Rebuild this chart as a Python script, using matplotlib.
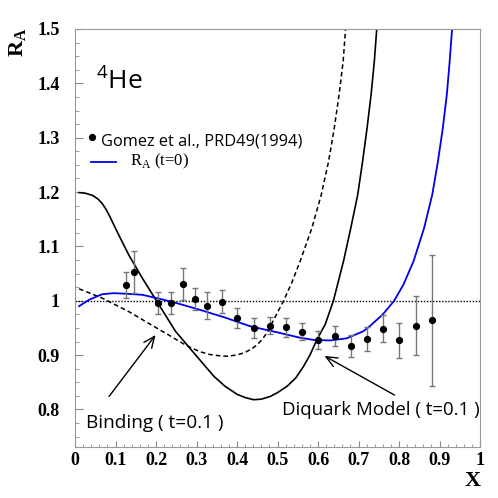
import matplotlib
matplotlib.use("Agg")
import matplotlib.pyplot as plt
from matplotlib.ticker import MultipleLocator

# Gomez et al., PRD49 (1994) data points for 4He
data_x = [0.125, 0.145, 0.205, 0.236, 0.266, 0.296, 0.326, 0.362, 0.401, 0.441,
          0.481, 0.521, 0.561, 0.601, 0.641, 0.681, 0.721, 0.761, 0.801, 0.841, 0.881]
data_y = [1.029, 1.053, 0.996, 0.996, 1.031, 1.003, 0.991, 0.998, 0.968, 0.950,
          0.954, 0.951, 0.943, 0.928, 0.935, 0.917, 0.930, 0.949, 0.927, 0.954, 0.964]
data_err = [0.024, 0.039, 0.021, 0.021, 0.029, 0.020, 0.025, 0.021, 0.018, 0.019,
            0.016, 0.017, 0.016, 0.017, 0.018, 0.020, 0.022, 0.025, 0.032, 0.054, 0.120]

# R_A (t=0), blue curve
t0_x = [0.01, 0.035, 0.067, 0.095, 0.125, 0.166, 0.207, 0.24, 0.273, 0.31, 0.371,
        0.433, 0.499, 0.556, 0.589, 0.630, 0.671, 0.712, 0.729, 0.760, 0.788, 0.811,
        0.836, 0.862, 0.882, 0.896, 0.908, 0.918, 0.925, 0.931]
t0_y = [0.990, 1.002, 1.012, 1.014, 1.013, 1.011, 1.004, 0.998, 0.991, 0.983, 0.969,
        0.953, 0.942, 0.932, 0.928, 0.927, 0.931, 0.944, 0.954, 0.975, 1.0, 1.030,
        1.073, 1.134, 1.195, 1.256, 1.317, 1.379, 1.440, 1.5]

# Diquark model (t=0.1), solid black
dq_x = [0.01, 0.025, 0.043, 0.057, 0.067, 0.076, 0.084, 0.095, 0.108, 0.133, 0.166,
        0.207, 0.248, 0.289, 0.343, 0.37, 0.40, 0.42, 0.441, 0.46, 0.482, 0.50, 0.524,
        0.545, 0.564, 0.58, 0.597, 0.618, 0.638, 0.663, 0.681, 0.698, 0.710, 0.721,
        0.731, 0.739, 0.745]
dq_y = [1.199, 1.198, 1.194, 1.187, 1.179, 1.169, 1.158, 1.141, 1.121, 1.084, 1.042,
        0.993, 0.944, 0.908, 0.861, 0.843, 0.828, 0.822, 0.818, 0.819, 0.824, 0.831,
        0.843, 0.858, 0.879, 0.900, 0.928, 0.957, 1.0, 1.073, 1.134, 1.195, 1.256,
        1.317, 1.379, 1.440, 1.5]

# Binding (t=0.1), dashed black
bd_x = [0.01, 0.067, 0.133, 0.199, 0.236, 0.265, 0.285, 0.31, 0.334, 0.355, 0.376,
        0.397, 0.417, 0.435, 0.450, 0.462, 0.474, 0.485, 0.515, 0.535, 0.556, 0.585,
        0.608, 0.626, 0.640, 0.652, 0.662, 0.668]
bd_y = [1.022, 1.005, 0.980, 0.951, 0.935, 0.922, 0.914, 0.906, 0.901, 0.899, 0.898,
        0.900, 0.904, 0.911, 0.919, 0.929, 0.941, 0.957, 1.0, 1.033, 1.073, 1.134,
        1.195, 1.256, 1.317, 1.379, 1.440, 1.5]

sans = ["Open Sans", "DejaVu Sans"]
serif = ["Liberation Serif", "DejaVu Serif"]

fig = plt.figure(figsize=(4.98, 4.98), dpi=100)
ax = fig.add_axes([0.1506, 0.1024, 0.8133, 0.8394])

ax.axhline(1.0, color="black", linestyle=(0, (1, 1.2)), linewidth=1.0)
ax.plot(bd_x, bd_y, color="black", linestyle=(0, (3, 2)), linewidth=1.1)
ax.plot(dq_x, dq_y, color="black", linewidth=1.2, solid_joinstyle="round")
ax.plot(t0_x, t0_y, color="#0000ee", linewidth=1.3, solid_joinstyle="round")
ax.errorbar(data_x, data_y, yerr=data_err, fmt="none", ecolor="#777777",
            elinewidth=1.0, capsize=2.2, capthick=1.0)
ax.plot(data_x, data_y, "o", color="black", markersize=4.2)

ax.set_xlim(0, 1)
ax.set_ylim(0.731, 1.5)
ax.xaxis.set_minor_locator(MultipleLocator(0.02))
ax.yaxis.set_minor_locator(MultipleLocator(0.025))
for sp in ax.spines.values():
    sp.set_color("#999999")
ax.tick_params(which="both", direction="in", color="#888888", top=False, right=False)
ax.tick_params(axis="y", which="major", length=5.5, pad=11)
ax.tick_params(axis="y", which="minor", length=3)
ax.tick_params(axis="x", which="major", length=4.5, pad=3.5)
ax.tick_params(axis="x", which="minor", length=2.2)

xt = [0, 0.1, 0.2, 0.3, 0.4, 0.5, 0.6, 0.7, 0.8, 0.9, 1]
yt = [0.8, 0.9, 1.0, 1.1, 1.2, 1.3, 1.4, 1.5]
ax.set_xticks(xt)
ax.set_xticklabels(["0", "0.1", "0.2", "0.3", "0.4", "0.5", "0.6", "0.7", "0.8", "0.9", "1"],
                   family=serif, fontweight="bold", fontsize=13)
ax.set_yticks(yt)
ax.set_yticklabels(["0.8", "0.9", "1", "1.1", "1.2", "1.3", "1.4", "1.5"],
                   family=serif, fontweight="bold", fontsize=13)

fig.text(0.95, 0.024, "X", family=serif, fontweight="bold", fontsize=16,
         ha="center", va="baseline")
fig.text(0.036, 0.916, r"R$_{\mathregular{A}}$", family=serif, fontweight="bold",
         fontsize=16, rotation=90, ha="center", va="center")

# 4He label
ax.text(0.051, 1.391, r"$^{\mathregular{4}}$He", family=sans, fontsize=19,
        va="baseline", ha="left")

# legend
ax.plot([0.041], [1.301], "o", color="black", markersize=4.2)
ax.text(0.063, 1.285, "Gomez et al., PRD49(1994)", family=sans, fontsize=11.8,
        va="baseline", ha="left")
ax.plot([0.039, 0.10], [1.256, 1.256], color="#0000ee", linewidth=1.3)
ax.text(0.137, 1.249, r"R$_{\mathregular{A}}$ (t=0)", family=serif, fontsize=12,
        va="baseline", ha="left")

# annotations
ax.annotate("", xy=(0.203, 0.941), xytext=(0.080, 0.820),
            arrowprops=dict(arrowstyle="->,head_length=0.8,head_width=0.35",
                            color="black", lw=1.0))
ax.annotate("", xy=(0.610, 0.901), xytext=(0.795, 0.824),
            arrowprops=dict(arrowstyle="->,head_length=0.8,head_width=0.35",
                            color="black", lw=1.0))
ax.text(0.026, 0.766, "Binding ( t=0.1 )", family=sans, fontsize=13.7,
        va="baseline", ha="left")
ax.text(0.511, 0.789, "Diquark Model ( t=0.1 )", family=sans, fontsize=13.4,
        va="baseline", ha="left")

fig.savefig("out.png", dpi=100)
